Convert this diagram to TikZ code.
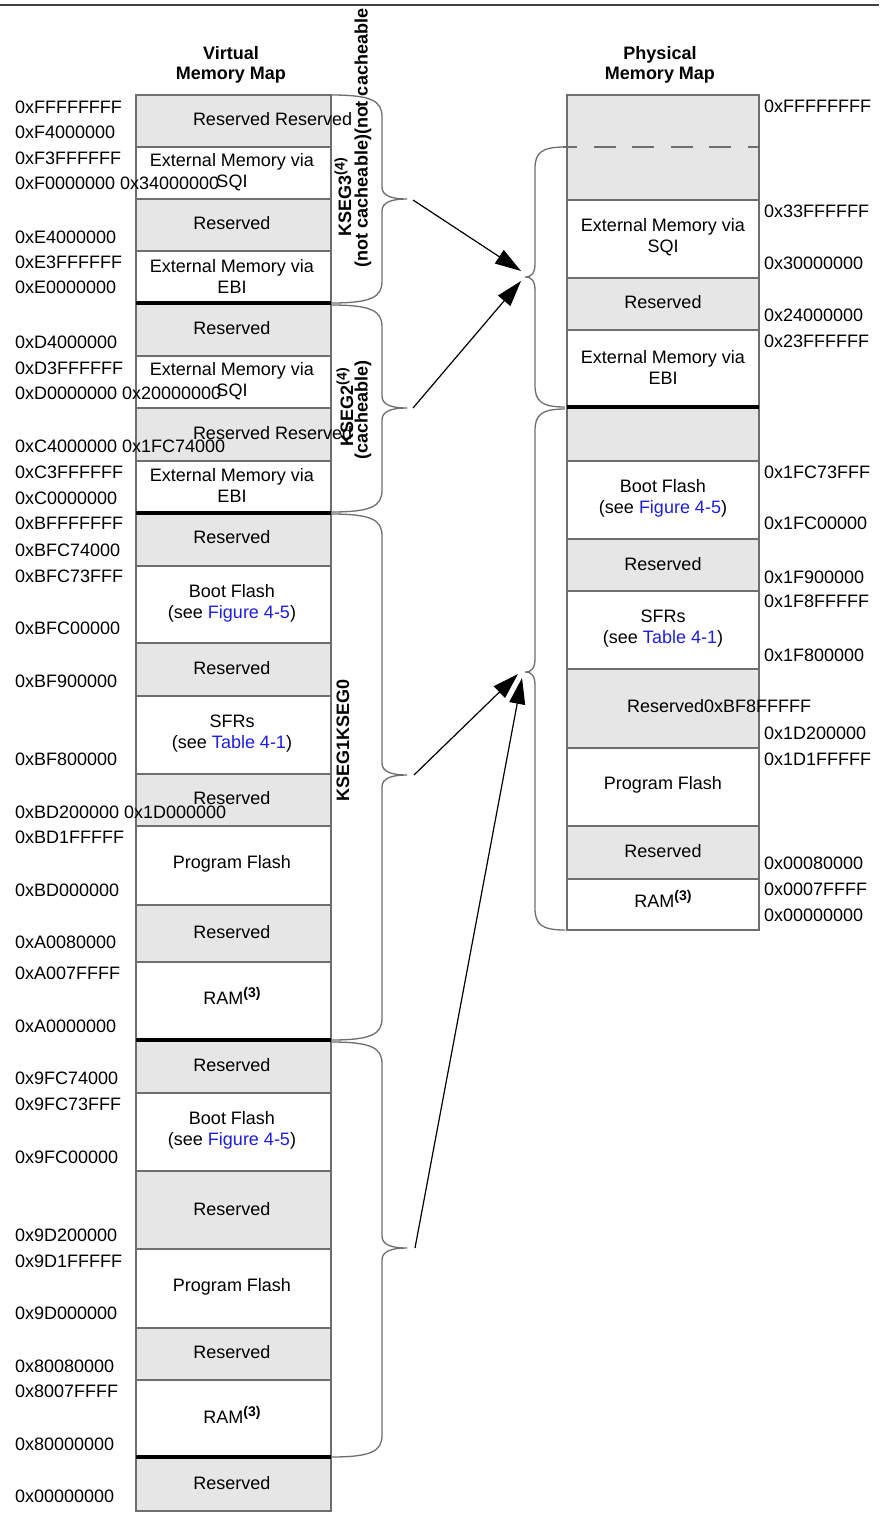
\documentclass[tikz,border=0pt]{standalone}
\usepackage{fontspec}
\setmainfont{Liberation Sans}
\usetikzlibrary{arrows.meta}
\definecolor{resgray}{HTML}{E6E6E6}
\definecolor{linegray}{HTML}{6E6E6E}
\definecolor{linkblue}{RGB}{30,30,220}
\newcommand{\lnk}[1]{\textcolor{linkblue}{#1}}
\newcommand{\supt}[1]{\raisebox{6.5pt}{\fontsize{14}{14}\selectfont\bfseries #1}}
\newcommand{\ramtxt}{RAM\supt{(3)}}
\begin{document}
\begin{tikzpicture}[x=1pt,y=-1pt,
  every node/.style={font=\fontsize{18}{21}\selectfont, inner sep=0pt, outer sep=0pt},
  vcell/.style={draw=linegray, line width=1.3pt, minimum width=195pt},
  pcell/.style={draw=linegray, line width=1.3pt, minimum width=192pt},
  txt/.style={align=center},
  addr/.style={anchor=west},
  sepline/.style={line width=4pt, black},
  brace/.style={draw=linegray, line width=1.3pt},
  arr/.style={draw=black, line width=1.2pt, -{Triangle[length=26pt,width=16pt]}},
  seg/.style={font=\fontsize{18}{20}\selectfont\bfseries, rotate=90},
  title/.style={font=\fontsize{18}{20}\selectfont\bfseries, align=center}
]
\useasboundingbox (0,0) rectangle (879,1515);
\fill[white] (0,0) rectangle (879,1515);
\draw[draw=black!75, line width=1.5pt] (0,5) -- (879,5);

% titles
\node[title] (vtitle) at (231,65) {Virtual\\Memory Map};
\node[title] (ptitle) at (660,65) {Physical\\Memory Map};

% virtual cells
\foreach \n/\a/\b/\f in {1/95/147/resgray, 2/147/199/white, 3/199/251/resgray, 4/251/303/white,
  5/303/356/resgray, 6/356/408/white, 7/408/461/resgray, 8/461/512.5/white,
  9/512.5/566/resgray, 10/566/643/white, 11/643/696/resgray, 12/696/774/white,
  13/774/826/resgray, 14/826/905/white, 15/905/962/resgray, 16/962/1040/white,
  17/1040/1093/resgray, 18/1093/1171/white, 19/1171/1249/resgray, 20/1249/1328/white,
  21/1328/1380/resgray, 22/1380/1457/white, 23/1457/1511/resgray}
{
  \pgfmathsetmacro\h{\b-\a}
  \pgfmathsetmacro\c{(\a+\b)/2}
  \node[vcell, fill=\f, minimum height=\h pt] (v\n) at (233.5,\c) {};
}
% physical cells
\foreach \n/\a/\b/\f in {1/95/200/resgray, 2/200/278/white, 3/278/330/resgray, 4/330/407/white,
  5/407/461/resgray, 6/461/539/white, 7/539/591/resgray, 8/591/669/white,
  9/669/748/resgray, 10/748/826/white, 11/826/879/resgray, 12/879/930/white}
{
  \pgfmathsetmacro\h{\b-\a}
  \pgfmathsetmacro\c{(\a+\b)/2}
  \node[pcell, fill=\f, minimum height=\h pt] (p\n) at (663,\c) {};
}
\draw[draw=linegray, line width=1.6pt, dash pattern=on 22pt off 16.5pt, dash phase=8pt] (563,147) -- (760,147);

% separators
\draw[sepline] (v4.south west) -- (v4.south east);
\draw[sepline] (v8.south west) -- (v8.south east);
\draw[sepline] (v16.south west) -- (v16.south east);
\draw[sepline] (v22.south west) -- (v22.south east);
\draw[sepline] (p4.south west) -- (p4.south east);

% virtual texts
\node[anchor=west] (t1) at (193,119) {Reserved Reserved};
\node[txt] (t2) at (232,172.5) {External Memory via\\SQI};
\node (t3) at (232,223) {Reserved};
\node[txt] (t4) at (232,276.5) {External Memory via\\EBI};
\node (t5) at (232,328) {Reserved};
\node[txt] (t6) at (232,381.5) {External Memory via\\SQI};
\node[anchor=west] (t7) at (193,433) {Reserved Reserved};
\node[txt] (t8) at (232,485.5) {External Memory via\\EBI};
\node (t9) at (232,537) {Reserved};
\node[txt] (t10) at (232,603) {Boot Flash\\(see \lnk{Figure 4-5})};
\node (t11) at (232,668) {Reserved};
\node[txt] (t12) at (232,733.5) {SFRs\\(see \lnk{Table 4-1})};
\node (t13) at (232,798) {Reserved};
\node (t14) at (232,864) {Program Flash};
\node (t15) at (232,932) {Reserved};
\node (t16) at (232,996) {\ramtxt};
\node (t17) at (232,1065) {Reserved};
\node[txt] (t18) at (232,1130.5) {Boot Flash\\(see \lnk{Figure 4-5})};
\node (t19) at (232,1209) {Reserved};
\node (t20) at (232,1287) {Program Flash};
\node (t21) at (232,1352) {Reserved};
\node (t22) at (232,1415) {\ramtxt};
\node (t23) at (232,1483) {Reserved};

% physical texts
\node[txt] (q2) at (663,237.5) {External Memory via\\SQI};
\node (q3) at (663,302) {Reserved};
\node[txt] (q4) at (663,367.5) {External Memory via\\EBI};
\node[txt] (q6) at (663,498.5) {Boot Flash\\(see \lnk{Figure 4-5})};
\node (q7) at (663,564) {Reserved};
\node[txt] (q8) at (663,629) {SFRs\\(see \lnk{Table 4-1})};
\node[anchor=west] (q9) at (627,706) {Reserved0xBF8FFFFF};
\node (q10) at (663,785) {Program Flash};
\node (q11) at (663,851) {Reserved};
\node (q12) at (663,899) {\ramtxt};

% virtual addresses
\foreach \n/\y/\t in {1/107/0xFFFFFFFF, 2/132/0xF4000000, 3/158/0xF3FFFFFF, 4/183/0xF0000000 0x34000000,
  5/237/0xE4000000, 6/262/0xE3FFFFFF, 7/287/0xE0000000, 8/342/0xD4000000, 9/368/0xD3FFFFFF,
  10/393/0xD0000000 0x20000000, 11/446/0xC4000000 0x1FC74000, 12/472/0xC3FFFFFF, 13/498/0xC0000000,
  14/523/0xBFFFFFFF, 15/550/0xBFC74000, 16/576/0xBFC73FFF, 17/628/0xBFC00000, 18/681/0xBF900000,
  19/759/0xBF800000, 20/812/0xBD200000 0x1D000000, 21/837/0xBD1FFFFF, 22/890/0xBD000000,
  23/942/0xA0080000, 24/973/0xA007FFFF, 25/1026/0xA0000000, 26/1078/0x9FC74000, 27/1104/0x9FC73FFF,
  28/1157/0x9FC00000, 29/1235/0x9D200000, 30/1261/0x9D1FFFFF, 31/1313/0x9D000000,
  32/1366/0x80080000, 33/1391/0x8007FFFF, 34/1444/0x80000000, 35/1496/0x00000000}
{
  \node[addr] (va\n) at (15,\y) {\t};
}
% physical addresses
\foreach \n/\y/\t in {1/106/0xFFFFFFFF, 2/211/0x33FFFFFF, 3/263/0x30000000, 4/315/0x24000000,
  5/341/0x23FFFFFF, 6/472/0x1FC73FFF, 7/523/0x1FC00000, 8/577/0x1F900000, 9/601/0x1F8FFFFF,
  10/655/0x1F800000, 11/733/0x1D200000, 12/759/0x1D1FFFFF, 13/863/0x00080000,
  14/889/0x0007FFFF, 15/915/0x00000000}
{
  \node[addr] (pa\n) at (764,\y) {\t};
}

% virtual braces
\foreach \a/\m/\b in {95/199/303, 305/408/512, 514/775/1040, 1042/1248/1457}
{
  \draw[brace] (331,\a) .. controls (372,\a) and (382,\a+6) .. (382,\a+22)
    -- (382,\m-12) .. controls (382,\m-3) and (392,\m) .. (407,\m)
    .. controls (392,\m) and (382,\m+3) .. (382,\m+12)
    -- (382,\b-22) .. controls (382,\b-6) and (372,\b) .. (331,\b);
}
% physical braces
\foreach \a/\m/\b in {147/277/407, 409/672/930}
{
  \draw[brace] (565,\a) .. controls (541,\a) and (535,\a+6) .. (535,\a+22)
    -- (535,\m-14) .. controls (535,\m-4) and (532,\m) .. (525,\m)
    .. controls (532,\m) and (535,\m+4) .. (535,\m+14)
    -- (535,\b-22) .. controls (535,\b-6) and (541,\b) .. (565,\b);
}

% arrow end points
\coordinate (k3) at (413,200);
\coordinate (k2) at (413,408);
\coordinate (k1) at (414,775);
\coordinate (k0) at (415,1248);
\coordinate (pu1) at (521,271);
\coordinate (pu2) at (521,281);
\coordinate (pl1) at (518,674);
\coordinate (pl2) at (522,678);
\draw[arr] (k3) -- (pu1);
\draw[arr] (k2) -- (pu2);
\draw[arr] (k1) -- (pl1);
\draw[arr] (k0) -- (pl2);

% segment labels
\node[seg] (s3a) at (343,197) {KSEG3\supt{(4)}};
\node[seg, anchor=west] (s3b) at (363,267) {(not cacheable)(not cacheable};
\node[seg] (s2a) at (345,407) {KSEG2\supt{(4)}};
\node[seg] (s2b) at (363,410) {(cacheable)};
\node[seg] (s1) at (343,740) {KSEG1KSEG0};
\end{tikzpicture}
\end{document}
